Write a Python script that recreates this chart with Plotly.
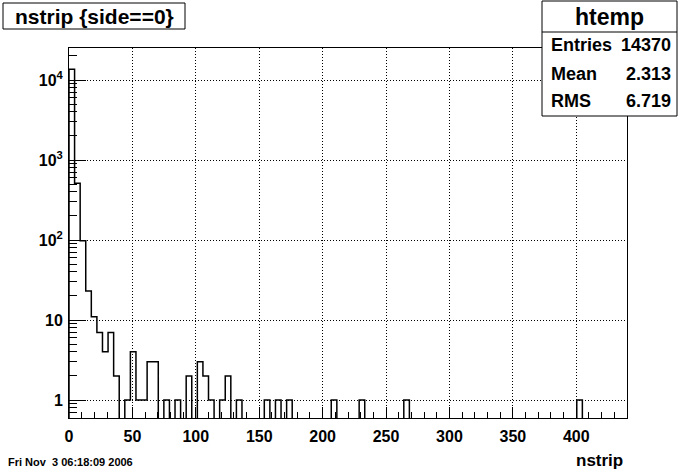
import plotly.graph_objects as go

# ---- data ----
x_min = 0.0
x_max = 440.0
n_bins = 100
counts = [
    13673, 511, 98, 23, 11, 7, 4, 7, 2, 0,
    1, 4, 1, 1, 3, 3, 0, 1, 0, 1,
    0, 2, 0, 3, 2, 1, 0, 1, 2, 0,
    1, 0, 0, 0, 0, 1, 0, 1, 0, 1,
    0, 0, 0, 0, 0, 0, 0, 1, 0, 0,
    0, 0, 1, 0, 0, 0, 0, 0, 0, 0,
    1, 0, 0, 0, 0, 0, 0, 0, 0, 0,
    0, 0, 0, 0, 0, 0, 0, 0, 0, 0,
    0, 0, 0, 0, 0, 0, 0, 0, 0, 0,
    0, 1, 0, 0, 0, 0, 0, 0, 0, 0,
]
y_tickvals = [1, 10, 100, 1000, 10000]
y_ticktext = ["1", "10", "10<sup>2</sup>", "10<sup>3</sup>", "10<sup>4</sup>"]
x_tickvals = [0, 50, 100, 150, 200, 250, 300, 350, 400]
hist_title = "nstrip {side==0}"
stats_name = "htemp"
stats_labels = ["Entries", "Mean", "RMS"]
stats_values = ["14370", "2.313", "6.719"]
x_title = "nstrip"
date_text = "Fri Nov \u00a03 06:18:09 2006"

# ---- geometry ----
W, H = 696, 472
L, R, T, B = 69, 627, 48, 418
FLOOR = 1e-3  # empty bins drawn below the frame (clipped), as ROOT does on log scale

bw = (x_max - x_min) / n_bins
edges = [x_min + i * bw for i in range(n_bins + 1)]
xs = [edges[0]] + edges[:n_bins] + [edges[n_bins]]
ys = [FLOOR] + [c if c > 0 else FLOOR for c in counts] + [FLOOR]

def px(x):
    return (x - L) / (R - L)

def py(y):
    return (B - y) / (B - T)

FONT = "Liberation Sans"

fig = go.Figure()
fig.add_trace(go.Scatter(
    x=xs, y=ys, mode="lines", line=dict(shape="hv", color="black", width=1.5),
    hoverinfo="skip", showlegend=False,
))

minor_y = [m * 10 ** e for e in range(-1, 5) for m in range(2, 10)]

fig.update_layout(
    width=W, height=H,
    margin=dict(l=L, r=W - R, t=T, b=H - B, autoexpand=False),
    paper_bgcolor="white", plot_bgcolor="white",
    showlegend=False,
    xaxis=dict(
        range=[x_min, x_max], showline=True, mirror=True, linecolor="black", linewidth=1,
        ticks="inside", ticklen=11, tickwidth=1, tickcolor="black",
        tickmode="array", tickvals=x_tickvals,
        tickfont=dict(family=FONT, size=16, color="black", weight="bold"),
        ticklabelstandoff=4,
        showgrid=True, gridcolor="black", gridwidth=1, griddash="1px,2px",
        minor=dict(ticks="inside", ticklen=6, tickwidth=1, tickcolor="black", dtick=10, showgrid=False),
        zeroline=False, automargin=False,
    ),
    yaxis=dict(
        type="log", range=[-0.225, 4.4], showline=True, mirror=True, linecolor="black", linewidth=1,
        ticks="inside", ticklen=17, tickwidth=1, tickcolor="black",
        tickmode="array", tickvals=y_tickvals, ticktext=y_ticktext,
        tickfont=dict(family=FONT, size=16, color="black", weight="bold"),
        ticklabelstandoff=2,
        showgrid=True, gridcolor="black", gridwidth=1, griddash="1px,2px",
        minor=dict(ticks="inside", ticklen=8, tickwidth=1, tickcolor="black",
                   tickmode="array", tickvals=minor_y, showgrid=False),
        zeroline=False, automargin=False,
    ),
)

shapes = [
    # title box
    dict(type="rect", xref="paper", yref="paper", x0=px(3), x1=px(185), y0=py(29), y1=py(3),
         line=dict(color="black", width=1), fillcolor="white", layer="above"),
    # stats box
    dict(type="rect", xref="paper", yref="paper", x0=px(542), x1=px(677), y0=py(116), y1=py(1),
         line=dict(color="black", width=1), fillcolor="white", layer="above"),
    dict(type="line", xref="paper", yref="paper", x0=px(542), x1=px(677), y0=py(32), y1=py(32),
         line=dict(color="black", width=1), layer="above"),
]

def ann(text, x, y, size, xanchor="center"):
    return dict(text=text, xref="paper", yref="paper", x=px(x), y=py(y), xanchor=xanchor,
                yanchor="middle", showarrow=False,
                font=dict(family=FONT, size=size, color="black", weight="bold"))

annotations = [
    ann(hist_title, 94, 16, 21),
    ann(stats_name, 609.5, 16.5, 23),
    ann(x_title, 625, 460, 17, "right"),
    ann(date_text, 6, 462, 11, "left"),
]
row_y = [45, 74, 101.5]
for lab, val, yy in zip(stats_labels, stats_values, row_y):
    annotations.append(ann(lab, 549, yy, 18, "left"))
    annotations.append(ann(val, 673, yy, 18, "right"))

fig.update_layout(shapes=shapes, annotations=annotations)
fig.write_html(
    "out.html",
    config={"displayModeBar": False},
    post_script="document.body.style.margin='0';document.body.style.overflow='hidden';",
)
